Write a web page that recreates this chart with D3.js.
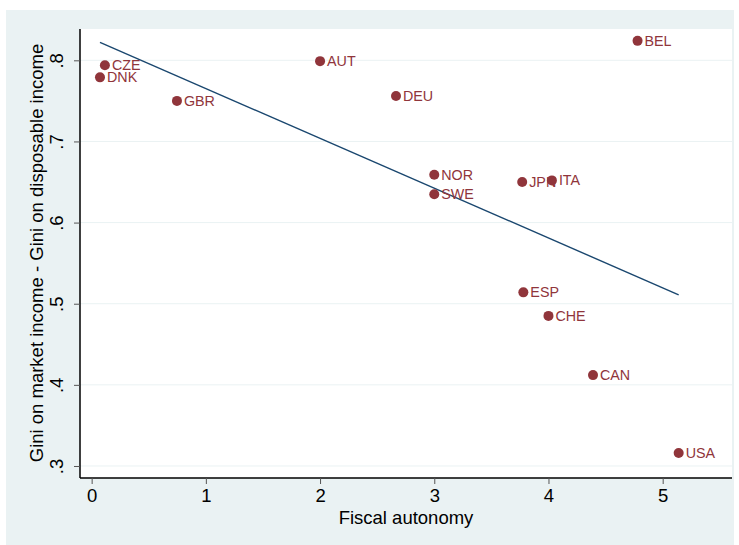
<!DOCTYPE html>
<html>
<head>
<meta charset="UTF-8">
<title>Fiscal autonomy vs redistribution</title>
<script src="https://cdn.jsdelivr.net/npm/d3@7"></script>
<style>
  body { margin: 0; background: #fff; }
  svg text { font-family: "Liberation Sans", Arial, sans-serif; }
</style>
</head>
<body>
<div id="chart"></div>
<script>
// country codes, fiscal autonomy, gini reduction
var countries = ["CZE", "DNK", "GBR", "AUT", "DEU", "NOR", "SWE", "JPN", "ITA", "BEL", "ESP", "CHE", "CAN", "USA"];
var autonomy  = [0.116, 0.073, 0.747, 2.0, 2.665, 3.0, 3.0, 3.77, 4.03, 4.78, 3.78, 4.0, 4.39, 5.14];
var giniDiff  = [0.794, 0.779, 0.750, 0.799, 0.756, 0.659, 0.635, 0.650, 0.652, 0.824, 0.514, 0.485, 0.412, 0.316];
var xTicks = [0, 1, 2, 3, 4, 5];
var yTicks = [0.3, 0.4, 0.5, 0.6, 0.7, 0.8];
var yTickLabels = [".3", ".4", ".5", ".6", ".7", ".8"];

var W = 739, H = 545;
var pl = 80, pr = 732, pt = 29, pb = 478;

var pts = countries.map(function(c, i){ return {name: c, x: autonomy[i], y: giniDiff[i]}; });

var svg = d3.select("#chart").append("svg")
    .attr("width", W).attr("height", H);

svg.append("rect").attr("x", 6).attr("y", 10).attr("width", 728).attr("height", 535)
    .attr("fill", "#eaf2f3");
svg.append("rect").attr("x", pl).attr("y", pt).attr("width", pr - pl).attr("height", pb - pt)
    .attr("fill", "#fff");

var x = d3.scaleLinear().domain([-0.102, 5.607]).range([pl, pr]);
var y = d3.scaleLinear().domain([0.2852, 0.8386]).range([pb, pt]);

// gridlines
svg.selectAll(".grid").data(yTicks).enter().append("line")
    .attr("x1", pl).attr("x2", pr)
    .attr("y1", function(d){ return y(d); }).attr("y2", function(d){ return y(d); })
    .attr("stroke", "#eaf2f3").attr("stroke-width", 1);

// linear fit (OLS)
var mx = d3.mean(autonomy), my = d3.mean(giniDiff);
var sxy = d3.sum(pts, function(d){ return (d.x - mx) * (d.y - my); });
var sxx = d3.sum(pts, function(d){ return (d.x - mx) * (d.x - mx); });
var b = sxy / sxx, a = my - b * mx;
var ext = d3.extent(autonomy);
svg.append("line")
    .attr("x1", x(ext[0])).attr("y1", y(a + b * ext[0]))
    .attr("x2", x(ext[1])).attr("y2", y(a + b * ext[1]))
    .attr("stroke", "#1a476f").attr("stroke-width", 1.4);

// points + labels
var col = "#90353b";
var g = svg.append("g");
g.selectAll("circle").data(pts).enter().append("circle")
    .attr("cx", function(d){ return x(d.x); })
    .attr("cy", function(d){ return y(d.y); })
    .attr("r", 5).attr("fill", col);
g.selectAll("text").data(pts).enter().append("text")
    .attr("x", function(d){ return x(d.x) + 7; })
    .attr("y", function(d){ return y(d.y) + 5; })
    .attr("font-size", 14.3).attr("fill", col)
    .text(function(d){ return d.name; });

// axes
var xAxis = d3.axisBottom(x).tickValues(xTicks).tickSize(6).tickPadding(5).tickFormat(d3.format("d"));
var xg = svg.append("g").attr("transform", "translate(0," + pb + ")").call(xAxis);
xg.select(".domain").attr("d", "M" + pl + ",0H" + pr).attr("stroke", "#000").attr("stroke-width", 1.5);
xg.selectAll(".tick line").attr("stroke", "#555");
xg.selectAll(".tick text").attr("font-size", 18.5).attr("fill", "#000")
    .attr("font-family", "Liberation Sans, Arial, sans-serif");

var yAxis = d3.axisLeft(y).tickValues(yTicks).tickSize(6)
    .tickFormat(function(d, i){ return yTickLabels[i]; });
var yg = svg.append("g").attr("transform", "translate(" + pl + ",0)").call(yAxis);
yg.select(".domain").attr("d", "M0," + pt + "V" + pb).attr("stroke", "#000").attr("stroke-width", 1.5);
yg.selectAll(".tick line").attr("stroke", "#555");
yg.selectAll(".tick text").attr("font-size", 18.5).attr("fill", "#000")
    .attr("font-family", "Liberation Sans, Arial, sans-serif")
    .attr("text-anchor", "middle").attr("x", null).attr("dy", null)
    .attr("transform", "translate(-17,0) rotate(-90)")
    .attr("y", 0);

svg.append("text").attr("x", 406).attr("y", 524)
    .attr("text-anchor", "middle").attr("font-size", 18.5)
    .text("Fiscal autonomy");
svg.append("text").attr("transform", "translate(43,253) rotate(-90)")
    .attr("text-anchor", "middle").attr("font-size", 18.5)
    .text("Gini on market income - Gini on disposable income");
</script>
</body>
</html>
